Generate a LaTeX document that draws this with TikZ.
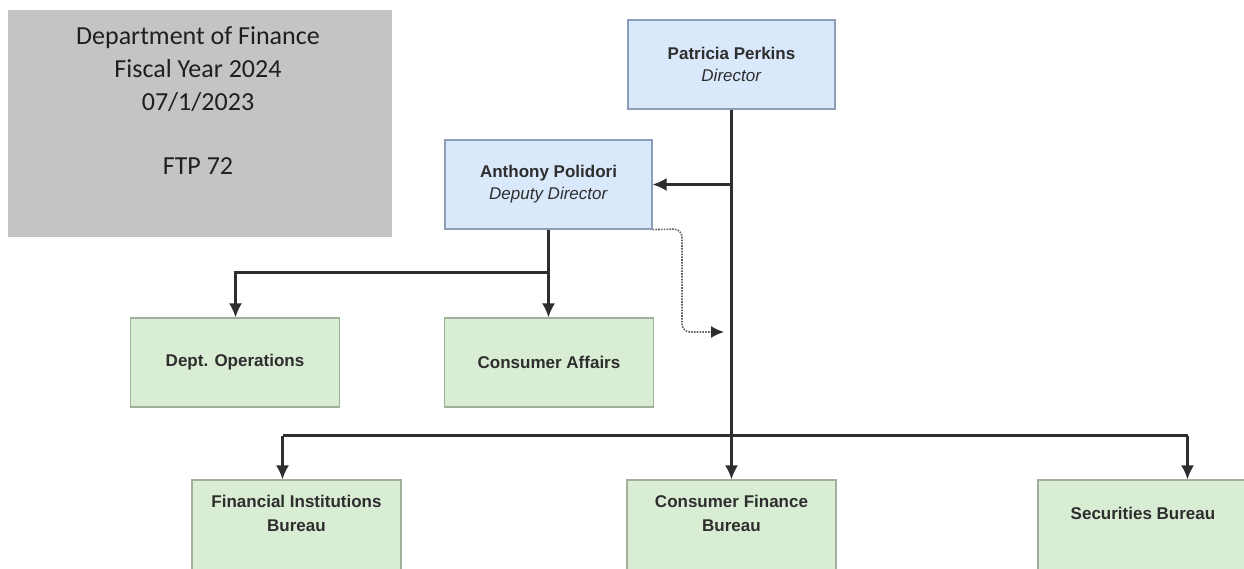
\documentclass[tikz,border=0pt]{standalone}
\usepackage{fontspec}
\setmainfont{Liberation Sans}
\newfontfamily\hdrfont{Carlito}
\usetikzlibrary{arrows.meta}
\definecolor{bluefill}{HTML}{DAE8FC}
\definecolor{blueline}{HTML}{8E9DB8}
\definecolor{greenfill}{HTML}{D8EDD3}
\definecolor{greenline}{HTML}{A0B09C}
\definecolor{greybox}{HTML}{C4C4C4}
\definecolor{ink}{HTML}{2E2E2E}
\tikzset{
  bluebox/.style={draw=blueline, fill=bluefill, line width=1.2pt, minimum width=207pt, minimum height=89pt, inner sep=0pt, align=center, text=ink, font=\fontsize{17}{22}\selectfont},
  greenbox/.style={draw=greenline, fill=greenfill, line width=1.2pt, minimum width=209pt, minimum height=89pt, inner sep=0pt, align=center, text=ink, font=\fontsize{17}{24}\selectfont},
  boxtext/.style={text=ink, font=\fontsize{17}{24}\selectfont, align=center},
  conn/.style={draw=ink, line width=2.2pt, -{Latex[length=14pt,width=13pt]}},
  plain/.style={draw=ink, line width=2.2pt},
  dotconn/.style={draw=ink!75, line width=1.6pt, dash pattern=on 1.6pt off 1.2pt, rounded corners=8pt, -{Latex[length=13pt,width=12pt,fill=ink,color=ink]}}
}
\begin{document}
\begin{tikzpicture}[x=1pt,y=-1pt]
\useasboundingbox (0,0) rectangle (1244,569);
\fill[white] (0,0) rectangle (1244,569);
% header box
\node[fill=greybox, minimum width=384pt, minimum height=227pt, inner sep=0pt] (hdr) at (200,123.5) {};
\node[font=\hdrfont\fontsize{26}{33}\selectfont, text=black!88, align=center, anchor=north] (hdrtxt) at (198,23) {Department of Finance\\Fiscal Year 2024\\07/1/2023\\[31pt]FTP 72};
% boxes
\node[bluebox] (pp) at (731.5,64.5) {\textbf{Patricia Perkins}\\\textit{Director}};
\node[bluebox] (ap) at (548.5,184.5) {\textbf{Anthony Polidori}\\\textit{Deputy Director}};
\node[greenbox] (do) at (235,362.5) {\textbf{Dept. Operations}};
\node[greenbox] (ca) at (549,362.5) {\textbf{Consumer Affairs}};
\node[greenbox, minimum height=95pt] (fi) at (296.5,527.5) {};
\node[boxtext] (fitxt) at (296.5,513) {\textbf{Financial Institutions}\\\textbf{Bureau}};
\node[greenbox, minimum width=209pt, minimum height=95pt] (cf) at (731.5,527.5) {};
\node[boxtext] (cftxt) at (731.5,513) {\textbf{Consumer Finance}\\\textbf{Bureau}};
\node[greenbox, minimum width=214pt, minimum height=95pt] (sb) at (1145,527.5) {};
\node[boxtext] (sbtxt) at (1143,513) {\textbf{Securities Bureau}};
% coordinates
\coordinate (trunkap) at (pp.south |- ap.east);
\coordinate (barL) at (282.5,435.5);
\coordinate (barR) at (1187.5,435.5);
\coordinate (apsplit) at (548.5,272.5);
\coordinate (dotend) at (724,332);
% connectors
\draw[conn] (pp.south) -- (cf.north);
\draw[conn] (trunkap) -- (ap.east);
\draw[plain] (barL) -- (barR);
\draw[conn] (barL) -- (barL |- fi.north);
\draw[conn] (barR) -- (barR |- sb.north);
\draw[plain] (ap.south -| apsplit) -- (apsplit);
\draw[conn] (apsplit) -| ([xshift=0.5pt]do.north);
\draw[conn] (apsplit) -- (apsplit |- ca.north);
\draw[dotconn] (ap.south east) -- (682,229) -- (682,332) -- (dotend);
\end{tikzpicture}
\end{document}
